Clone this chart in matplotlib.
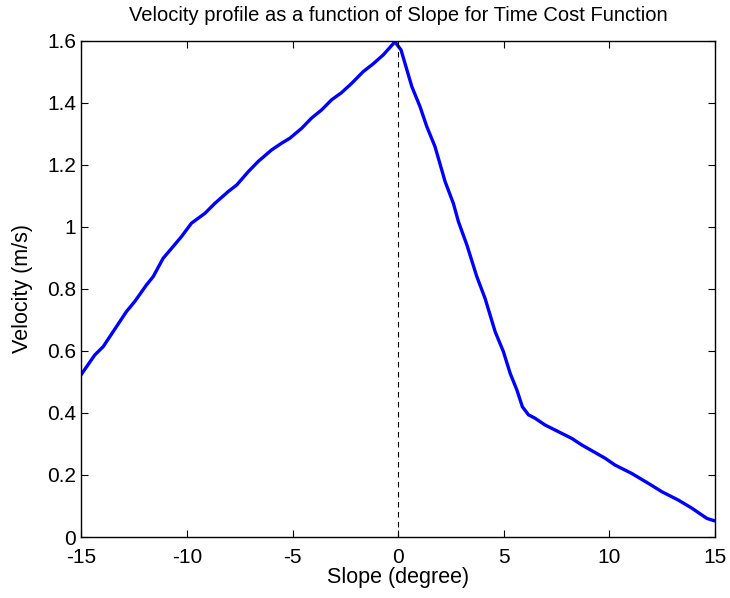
import matplotlib.pyplot as plt

plt.rcParams["font.family"] = ["Liberation Sans", "DejaVu Sans"]

# velocity profile
slope = [-15.0, -14.92, -14.37, -13.97, -12.87, -12.47, -11.92, -11.6, -11.13,
         -10.73, -10.26, -9.79, -9.15, -8.68, -8.05, -7.65, -7.1, -6.63, -6.0,
         -5.52, -5.13, -4.57, -4.1, -3.63, -3.15, -2.68, -2.2, -1.65, -1.18,
         -0.7, -0.15, 0.14, 0.65, 1.04, 1.36, 1.75, 2.23, 2.62, 2.86, 3.26,
         3.73, 4.12, 4.6, 4.99, 5.31, 5.63, 5.89, 6.18, 6.49, 6.97, 7.44,
         8.23, 8.7, 9.81, 10.28, 11.07, 11.86, 12.5, 13.28, 13.92, 14.63, 15.0]
velocity = [0.525, 0.533, 0.587, 0.614, 0.727, 0.76, 0.813, 0.84, 0.899,
            0.931, 0.969, 1.012, 1.044, 1.076, 1.114, 1.135, 1.178, 1.211, 1.248,
            1.27, 1.286, 1.318, 1.351, 1.377, 1.41, 1.433, 1.463, 1.501, 1.526,
            1.555, 1.597, 1.571, 1.453, 1.388, 1.324, 1.259, 1.146, 1.076, 1.017, 0.942,
            0.84, 0.77, 0.662, 0.598, 0.528, 0.474, 0.42, 0.394, 0.383, 0.361, 0.345,
            0.318, 0.297, 0.254, 0.232, 0.205, 0.173, 0.146, 0.119, 0.093, 0.06, 0.052]

fig = plt.figure(figsize=(7.3, 5.98), dpi=100)
ax = fig.add_axes([0.1116, 0.102, 0.8674, 0.8296])

ax.plot(slope, velocity, color="#0000FF", linewidth=2.4)
ax.plot([0, 0], [0, 1.6], color="black", linestyle=(0, (5, 4)), linewidth=0.8)

ax.set_xlim(-15, 15)
ax.set_ylim(0, 1.6)
ax.set_xticks([-15, -10, -5, 0, 5, 10, 15])
ax.set_xticklabels(["-15", "-10", "-5", "0", "5", "10", "15"])
ax.set_yticks([0, 0.2, 0.4, 0.6, 0.8, 1, 1.2, 1.4, 1.6])
ax.set_yticklabels(["0", "0.2", "0.4", "0.6", "0.8", "1", "1.2", "1.4", "1.6"])
ax.tick_params(direction="in", top=True, right=True, labelsize=15, length=5)
ax.tick_params(axis="x", pad=8)
ax.tick_params(axis="y", pad=4)
for s in ax.spines.values():
    s.set_linewidth(1.0)

ax.set_title("Velocity profile as a function of Slope for Time Cost Function", fontsize=14.5, pad=14)
ax.set_xlabel("Slope (degree)", fontsize=15.5, labelpad=0)
ax.set_ylabel("Velocity (m/s)", fontsize=15.5, labelpad=10)

fig.savefig("out.png", dpi=100)
